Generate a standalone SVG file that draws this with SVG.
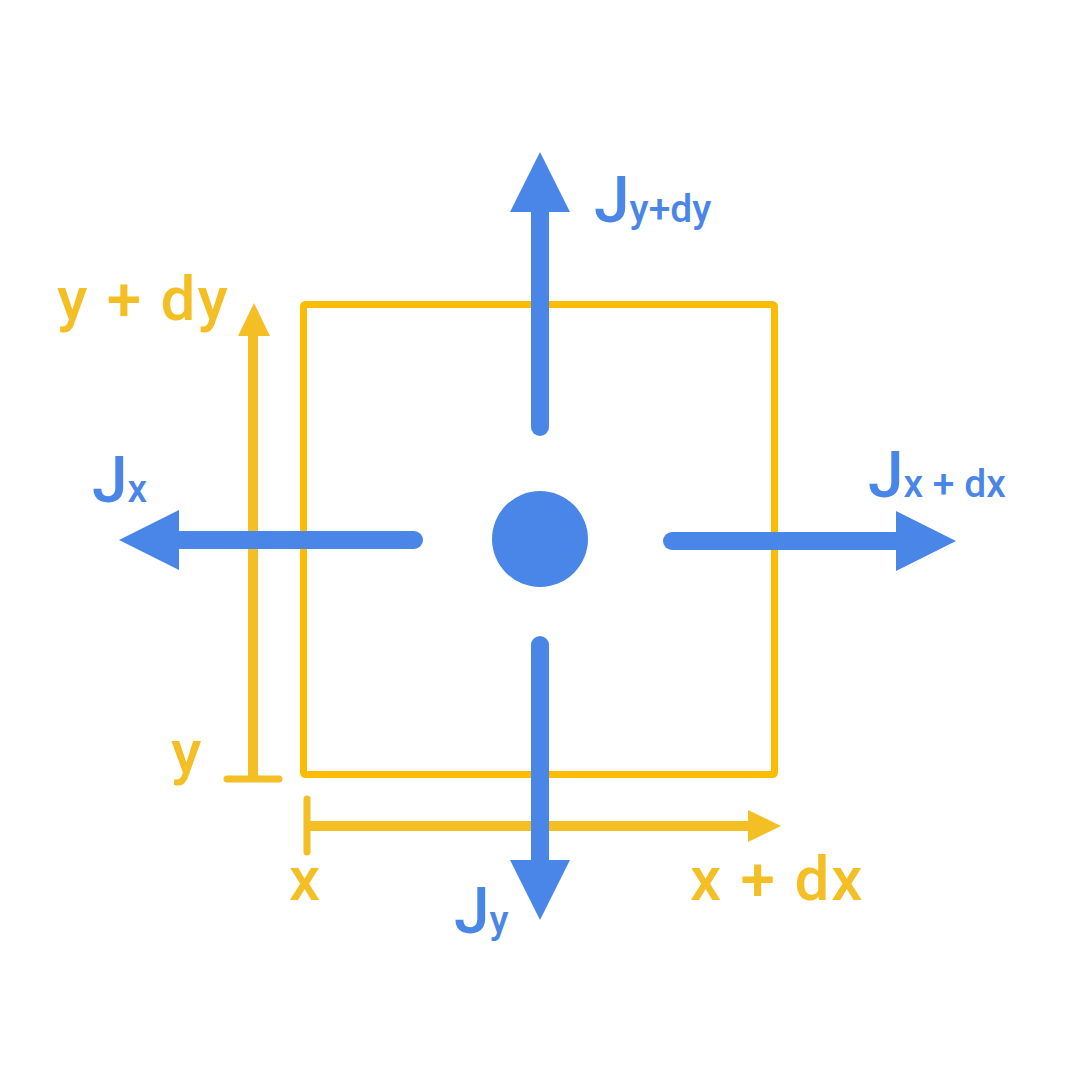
<svg xmlns="http://www.w3.org/2000/svg" width="1080" height="1080" viewBox="0 0 1080 1080">
<style>
.box{fill:none;stroke:#FBBC04;stroke-width:7;stroke-linejoin:round}
.ax{stroke:#F4BE25;stroke-width:10;fill:none}
.tick{stroke:#F4BE25;stroke-width:7;stroke-linecap:round;fill:none}
.ah{fill:#F4BE25}
.bl{stroke:#4A86E8;stroke-width:18;stroke-linecap:round;fill:none}
.bh{fill:#4A86E8}
.yt{font-family:Roboto,"Liberation Sans",sans-serif;font-weight:500;font-size:62px;fill:#F4BE25;letter-spacing:2px}
.bt{font-family:Roboto,"Liberation Sans",sans-serif;font-weight:500;font-size:64px;fill:#4A86E8}
.sub{font-size:39px}
</style>
<rect width="1080" height="1080" fill="#fff"/>
<g id="box"><rect class="box" x="303.5" y="304.5" width="471" height="470" rx="2"/></g>
<g id="connectors">
<g id="y-axis">
<line class="ax" x1="253" y1="779" x2="253" y2="334"/>
<polygon class="ah" points="238,336 270,336 254,303"/>
<line class="tick" x1="227" y1="779" x2="279" y2="779"/>
</g>
<g id="x-axis">
<line class="ax" x1="307" y1="826" x2="750" y2="826"/>
<polygon class="ah" points="748,810 748,842 781,826"/>
<line class="tick" x1="307" y1="799" x2="307" y2="852"/>
</g>
<g id="j-up">
<line class="bl" x1="540" y1="427" x2="540" y2="208"/>
<polygon class="bh" points="510,212 570,212 540,152"/>
</g>
<g id="j-left">
<line class="bl" x1="414" y1="540" x2="174" y2="540"/>
<polygon class="bh" points="179,510 179,570 119,540"/>
</g>
<g id="j-right">
<line class="bl" x1="672" y1="541" x2="900" y2="541"/>
<polygon class="bh" points="896,511 896,571 956,541"/>
</g>
<g id="j-down">
<line class="bl" x1="540" y1="645" x2="540" y2="864"/>
<polygon class="bh" points="510,860 570,860 540,920"/>
</g>
</g>
<g id="center"><circle cx="540" cy="539" r="48" fill="#4A86E8"/></g>
<g id="labels">
<text class="yt" x="57" y="320">y + dy</text>
<text class="yt" x="171" y="773">y</text>
<text class="yt" x="289" y="900">x</text>
<text class="yt" x="690" y="900">x + dx</text>
<text class="bt" x="92" y="502">J<tspan class="sub">x</tspan></text>
<text class="bt" x="594" y="222">J<tspan class="sub">y+dy</tspan></text>
<text class="bt" x="868" y="497">J<tspan class="sub">x + dx</tspan></text>
<text class="bt" x="454" y="933">J<tspan class="sub">y</tspan></text>
</g>
</svg>
